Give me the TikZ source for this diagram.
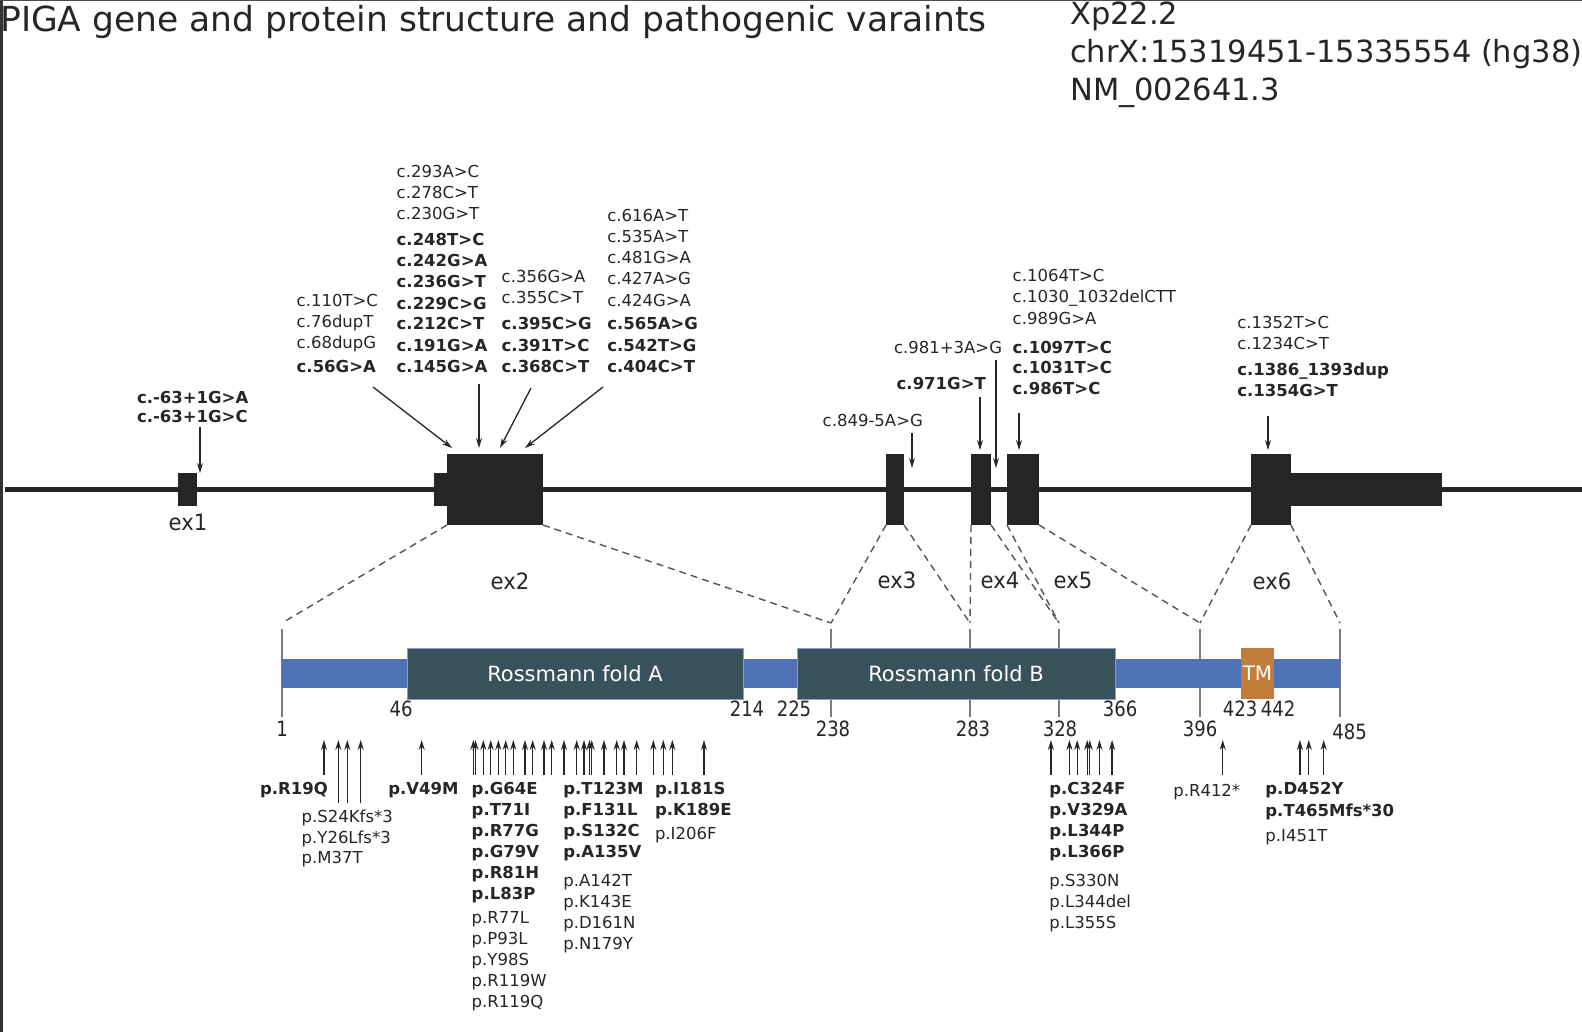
\documentclass[tikz,border=0pt]{standalone}
\usepackage{fontspec}
\usepackage{graphicx}
\setmainfont{DejaVu Sans}
\usetikzlibrary{arrows.meta}
\definecolor{ink}{HTML}{262626}
\definecolor{exfill}{HTML}{252525}
\definecolor{pblue}{HTML}{4E72B5}
\definecolor{ross}{HTML}{38515B}
\definecolor{rossedge}{HTML}{7F9FD6}
\definecolor{tmfill}{HTML}{C27C3B}
\definecolor{tickgray}{HTML}{7A7A7A}
\definecolor{dashgray}{HTML}{555555}
\newcommand{\nq}[1]{\scalebox{0.86}[1]{#1}}
\newcommand{\eq}[1]{\scalebox{0.94}[1]{#1}}
\begin{document}
\begin{tikzpicture}[x=1pt,y=-1pt,
  lab/.style={font=\fontsize{16.5}{20}\selectfont, text=ink, anchor=base west, inner sep=0pt, outer sep=0pt},
  blab/.style={lab, font=\fontsize{16.5}{20}\selectfont\bfseries},
  num/.style={font=\fontsize{21}{24}\selectfont, text=ink, inner sep=0pt},
  exlab/.style={font=\fontsize{22.5}{26}\selectfont, text=ink, inner sep=0pt},
  exon/.style={fill=exfill, draw=none, inner sep=0pt, outer sep=0pt},
  geneline/.style={line width=5pt, draw=exfill},
  tickln/.style={line width=2pt, draw=tickgray},
  dashln/.style={line width=1.4pt, draw=dashgray, dash pattern=on 7pt off 5pt},
  arr/.style={draw=ink, line width=1.3pt, -{Stealth[length=10pt,width=6pt]}},
  dom/.style={fill=ross, draw=rossedge, line width=1pt, inner sep=0pt, outer sep=0pt, minimum height=51pt, text=white, font=\fontsize{21}{24}\selectfont},
  hdr/.style={font=\fontsize{30.5}{36}\selectfont, text=ink, anchor=base west, inner sep=0pt}
]
\useasboundingbox (0,0) rectangle (1582,1032);
\fill[white] (0,0) rectangle (1582,1032);
\fill[black!80] (0,0) rectangle (3,1032);
\draw[black!70, line width=1.5pt] (0,0.75) -- (1582,0.75);

% title and header
\node[font=\fontsize{34.5}{40}\selectfont, text=ink, anchor=base west, inner sep=0pt] (title) at (0,32) {PIGA gene and protein structure and pathogenic varaints};
\node[hdr] (h1) at (1070,25) {Xp22.2};
\node[hdr] (h2) at (1070,63) {chrX:15319451-15335554 (hg38)};
\node[hdr] (h3) at (1070,101) {NM\_002641.3};

% gene line and exons
\coordinate (gL) at (5,489.5);
\coordinate (gR) at (1582,489.5);
\draw[geneline] (gL) -- (gR);
\node[exon, minimum width=19pt, minimum height=33pt] (ex1) at (187.5,489.5) {};
\node[exon, minimum width=14pt, minimum height=33pt] (ex2u) at (440.5,489.5) {};
\node[exon, minimum width=96pt, minimum height=71pt] (ex2) at (495,489.5) {};
\node[exon, minimum width=18pt, minimum height=71pt] (ex3) at (895,489.5) {};
\node[exon, minimum width=20pt, minimum height=71pt] (ex4) at (981,489.5) {};
\node[exon, minimum width=32pt, minimum height=71pt] (ex5) at (1023,489.5) {};
\node[exon, minimum width=151pt, minimum height=33pt] (ex6u) at (1366.5,489.5) {};
\node[exon, minimum width=40pt, minimum height=71pt] (ex6) at (1271,489.5) {};

% exon labels
\node[exlab] (l1) at (188,522.5) {\eq{ex1}};
\node[exlab] (l2) at (510,581) {\eq{ex2}};
\node[exlab] (l3) at (897,580) {\eq{ex3}};
\node[exlab] (l4) at (1000,580) {\eq{ex4}};
\node[exlab] (l5) at (1073,580) {\eq{ex5}};
\node[exlab] (l6) at (1272,581) {\eq{ex6}};

% c. variant labels
\node[blab] (v1a) at (137,403) {c.-63+1G>A};
\node[blab] (v1b) at (137,422) {c.-63+1G>C};
\foreach \t/\yy [count=\i] in {c.110T>C/306, c.76dupT/327, c.68dupG/348}
  \node[lab] (cA\i) at (296.7,\yy) {\t};
\node[blab] (cA4) at (296.7,372) {c.56G>A};
\foreach \t/\yy [count=\i] in {c.293A>C/178, c.278C>T/199, c.230G>T/220}
  \node[lab] (cB\i) at (396.7,\yy) {\t};
\foreach \t/\yy [count=\i] in {c.248T>C/246, c.242G>A/267, c.236G>T/288, c.229C>G/309, c.212C>T/330, c.191G>A/351, c.145G>A/372}
  \node[blab] (cBb\i) at (396.7,\yy) {\t};
\foreach \t/\yy [count=\i] in {c.356G>A/283, c.355C>T/304}
  \node[lab] (cC\i) at (501.7,\yy) {\t};
\foreach \t/\yy [count=\i] in {c.395C>G/330, c.391T>C/351, c.368C>T/372}
  \node[blab] (cCb\i) at (501.7,\yy) {\t};
\foreach \t/\yy [count=\i] in {c.616A>T/222, c.535A>T/243, c.481G>A/264, c.427A>G/285, c.424G>A/306}
  \node[lab] (cD\i) at (607.3,\yy) {\t};
\foreach \t/\yy [count=\i] in {c.565A>G/330, c.542T>G/351, c.404C>T/372}
  \node[blab] (cDb\i) at (607.3,\yy) {\t};
\node[lab] (c3) at (822.7,426) {c.849-5A>G};
\node[blab] (c4a) at (896.7,389) {c.971G>T};
\node[lab] (c4b) at (894,353) {c.981+3A>G};
\foreach \t/\yy [count=\i] in {c.1064T>C/282, c.1030\_1032delCTT/303, c.989G>A/324}
  \node[lab] (cE\i) at (1012.7,\yy) {\t};
\foreach \t/\yy [count=\i] in {c.1097T>C/353, c.1031T>C/373, c.986T>C/394}
  \node[blab] (cEb\i) at (1012.7,\yy) {\t};
\foreach \t/\yy [count=\i] in {c.1352T>C/328, c.1234C>T/349}
  \node[lab] (cF\i) at (1237.3,\yy) {\t};
\foreach \t/\yy [count=\i] in {c.1386\_1393dup/375, c.1354G>T/396}
  \node[blab] (cFb\i) at (1237.3,\yy) {\t};

% c. variant arrows
\coordinate (s1) at (200,427);   \coordinate (e1) at (200,473);
\coordinate (s2) at (373,387);   \coordinate (e2) at (452,448);
\coordinate (s3) at (479,384);   \coordinate (e3) at (479,448);
\coordinate (s4) at (531,388);   \coordinate (e4) at (500,448);
\coordinate (s5) at (603,387);   \coordinate (e5) at (525,448);
\coordinate (s6) at (912,433);   \coordinate (e6) at (912,468);
\coordinate (s7) at (980,397);   \coordinate (e7) at (980,450);
\coordinate (s8) at (996,360);   \coordinate (e8) at (996,468);
\coordinate (s9) at (1019,413);  \coordinate (e9) at (1019,450);
\coordinate (s10) at (1268,416); \coordinate (e10) at (1268,450);
\foreach \i in {1,...,10} \draw[arr] (s\i) -- (e\i);

% ticks on protein
\foreach \n/\x in {t1/282, t238/831, t283/970, t328/1059, t396/1200, t485/1340} {
  \coordinate (\n) at (\x,629);
  \coordinate (\n b) at (\x,717);
  \coordinate (\n d) at (\x,623);
  \draw[tickln] (\n) -- (\n b);
}

% dashed projections
\draw[dashln] (ex2.south west) -- (t1d);
\draw[dashln] (ex2.south east) -- (t238d);
\draw[dashln] (ex3.south west) -- (t238d);
\draw[dashln] (ex3.south east) -- (t283d);
\draw[dashln] (ex4.south west) -- (t283d);
\draw[dashln] (ex4.south east) -- (t328d);
\draw[dashln] (ex5.south west) -- (t328d);
\draw[dashln] (ex5.south east) -- (t396d);
\draw[dashln] (ex6.south west) -- (t396d);
\draw[dashln] (ex6.south east) -- (t485d);

% protein bar
\node[fill=pblue, draw=none, inner sep=0pt, minimum width=1058pt, minimum height=29pt] (bar) at (811,673.5) {};
\node[dom, minimum width=336pt] (rA) at (575,673.5) {Rossmann fold A};
\node[dom, minimum width=318pt] (rB) at (956,673.5) {Rossmann fold B};
\node[fill=tmfill, draw=none, inner sep=0pt, minimum width=33pt, minimum height=51pt, text=white, font=\fontsize{20}{24}\selectfont] (tm) at (1257.5,673.5) {TM};

% position numbers
\foreach \n/\x/\yy in {1/282/729, 46/401/709, 214/747/709, 225/794/709, 238/833/729, 283/973/729, 328/1060/729, 366/1120/709, 396/1200/729, 423/1240/709, 442/1278/709, 485/1349.5/732}
  \node[num] (n\n) at (\x,\yy) {\nq{\n}};

% protein variant arrows
\foreach \x [count=\i] in {324, 421.7, 473.3, 475.5, 483.3, 490.7, 498.3, 505.7, 513.3, 525, 532.7, 544, 551.7, 564, 576.7, 584, 589.5, 591.7, 604, 616.7, 624, 636.7, 653.3, 663.3, 672.3, 704, 1050.9, 1069.4, 1077.2, 1087.2, 1089.8, 1099.5, 1112.1, 1222.7, 1299.9, 1308.8, 1323.7} {
  \coordinate (pa\i) at (\x,775);
  \coordinate (pb\i) at (\x,740);
  \draw[arr] (pa\i) -- (pb\i);
}
\foreach \x [count=\i] in {338.3, 347.3, 360.7} {
  \coordinate (qa\i) at (\x,803);
  \coordinate (qb\i) at (\x,740);
  \draw[arr] (qa\i) -- (qb\i);
}

% protein variant labels
\node[blab] (pR19Q) at (260,794) {p.R19Q};
\foreach \t/\yy [count=\i] in {p.S24Kfs*3/822, p.Y26Lfs*3/843, p.M37T/863}
  \node[lab] (pS\i) at (301.7,\yy) {\t};
\node[blab] (pV49M) at (388.3,794) {p.V49M};
\foreach \t/\yy [count=\i] in {p.G64E/794, p.T71I/815, p.R77G/836, p.G79V/857, p.R81H/878, p.L83P/899}
  \node[blab] (pG\i) at (471.7,\yy) {\t};
\foreach \t/\yy [count=\i] in {p.R77L/923, p.P93L/944, p.Y98S/965, p.R119W/986, p.R119Q/1007}
  \node[lab] (pGn\i) at (471.7,\yy) {\t};
\foreach \t/\yy [count=\i] in {p.T123M/794, p.F131L/815, p.S132C/836, p.A135V/857}
  \node[blab] (pT\i) at (563.3,\yy) {\t};
\foreach \t/\yy [count=\i] in {p.A142T/886, p.K143E/907, p.D161N/928, p.N179Y/949}
  \node[lab] (pTn\i) at (563.3,\yy) {\t};
\foreach \t/\yy [count=\i] in {p.I181S/794, p.K189E/815}
  \node[blab] (pI\i) at (655,\yy) {\t};
\node[lab] (pI206F) at (655,839) {p.I206F};
\foreach \t/\yy [count=\i] in {p.C324F/794, p.V329A/815, p.L344P/836, p.L366P/857}
  \node[blab] (pC\i) at (1049.4,\yy) {\t};
\foreach \t/\yy [count=\i] in {p.S330N/886, p.L344del/907, p.L355S/928}
  \node[lab] (pCn\i) at (1049.4,\yy) {\t};
\node[lab] (pR412) at (1173.3,796) {p.R412*};
\foreach \t/\yy [count=\i] in {p.D452Y/794, p.T465Mfs*30/816}
  \node[blab] (pD\i) at (1265.4,\yy) {\t};
\node[lab] (pI451T) at (1265.4,841) {p.I451T};
\end{tikzpicture}
\end{document}
